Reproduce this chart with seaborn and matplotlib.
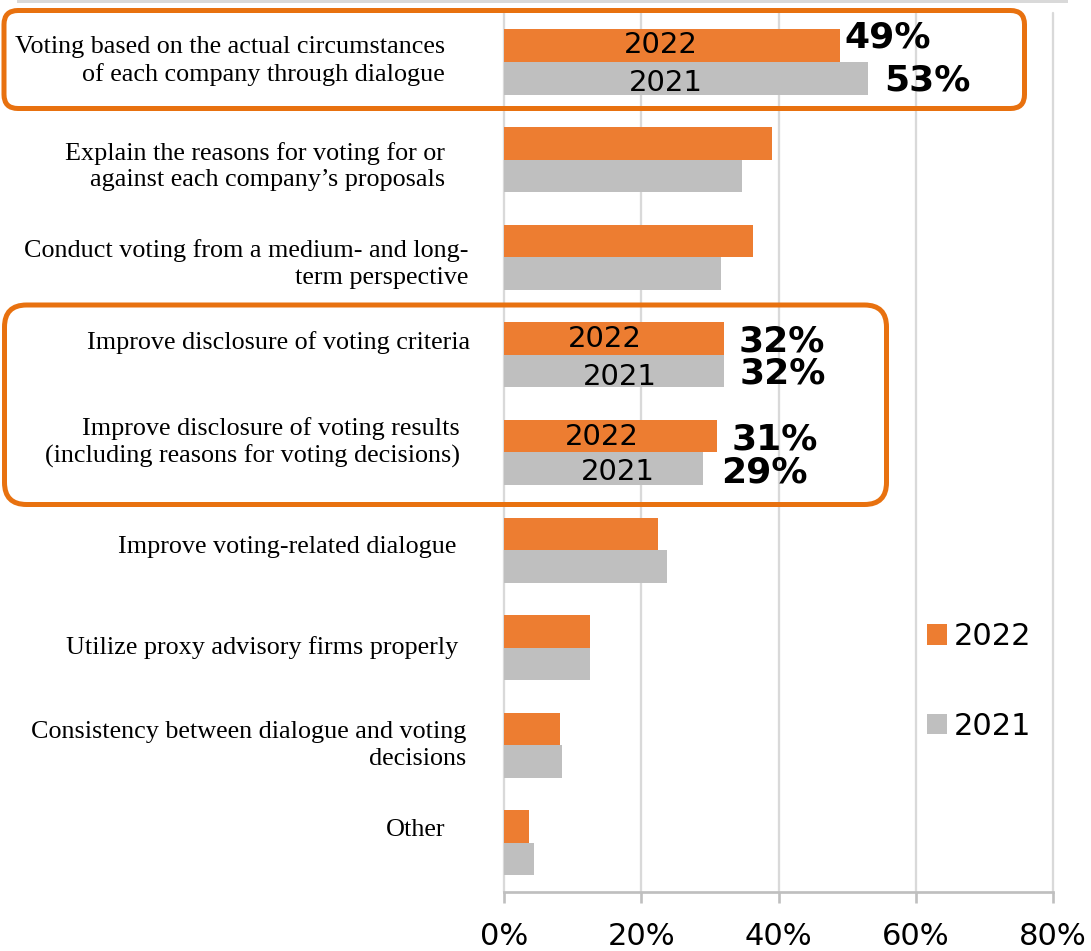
import matplotlib
matplotlib.use("Agg")
import matplotlib.pyplot as plt
from matplotlib.patches import FancyBboxPatch, Rectangle
from matplotlib.transforms import IdentityTransform
import pandas as pd
import seaborn as sns

# ---- data -------------------------------------------------------------
categories = [
    "Voting based on the actual circumstances\nof each company through dialogue",
    "Explain the reasons for voting for or\nagainst each company\u2019s proposals",
    "Conduct voting from a medium- and long-\nterm perspective",
    "Improve disclosure of voting criteria",
    "Improve disclosure of voting results\n(including reasons for voting decisions)",
    "Improve voting-related dialogue",
    "Utilize proxy advisory firms properly",
    "Consistency between dialogue and voting\ndecisions",
    "Other",
]
years = ["2022", "2021"]
share_2022 = [49, 39.1, 36.3, 32, 31, 22.4, 12.6, 8.2, 3.7]
share_2021 = [53, 34.7, 31.6, 32, 29, 23.8, 12.5, 8.4, 4.3]
x_ticks = [0, 20, 40, 60, 80]
x_tick_labels = ["0%", "20%", "40%", "60%", "80%"]
highlighted = [0, 3, 4]          # items whose bars carry year and value labels

# ---- layout (pixels on a 1091 x 951 canvas) ---------------------------
W, H = 1091, 951
AX_L, AX_R, AX_T, AX_B = 504, 1053, 13.2, 891.7
# right edge and vertical nudge (down positive) for each category label
label_right = [445, 445, 468, 470, 460, 456, 458, 466, 445]
label_nudge = [-1, 7, 7, -12, -10, -3, 0, 0, -13]
# value label offsets from the bar end: (dx, dy) per year
value_offsets = {
    0: [(4, -8.5), (16, 2.5)],
    3: [(15, 3), (16, 2)],
    4: [(15, 3), (18, 4)],
}
# centre of the in-bar year label, in axis units (percent)
year_label_x = {
    0: [22.9, 23.6],
    3: [14.7, 16.9],
    4: [14.3, 16.6],
}
year_label_nudge = {0: [-1, 4.5], 3: [0, 6], 4: [1, 3]}

ORANGE = "#ED7D31"
GREY = "#BFBFBF"
FRAME = "#E8710F"
GRID = "#D9D9D9"

sns.set_theme(style="white")
plt.rcParams["font.family"] = ["DejaVu Sans"]
plt.rcParams["text.color"] = "black"

df = pd.DataFrame({
    "category": categories * 2,
    "share": share_2022 + share_2021,
    "year": [years[0]] * len(categories) + [years[1]] * len(categories),
})

fig = plt.figure(figsize=(W / 100, H / 100), dpi=100)
ax = fig.add_axes([AX_L / W, 1 - AX_B / H, (AX_R - AX_L) / W, (AX_B - AX_T) / H])

sns.barplot(
    data=df, y="category", x="share", hue="year", hue_order=years,
    order=categories, palette=[ORANGE, GREY], saturation=1,
    orient="h", width=0.667, linewidth=0, ax=ax,
)

ax.set_xlim(0, 80)
ax.set_ylim(len(categories) - 0.5, -0.5)
ax.set_xlabel("")
ax.set_ylabel("")
ax.set_xticks(x_ticks, x_tick_labels)
ax.set_yticks(range(len(categories)), [""] * len(categories))
ax.tick_params(axis="y", length=0)
ax.tick_params(axis="x", length=8, width=1.9, color=GREY, pad=13.5,
               labelsize=22, labelcolor="black", bottom=True)

ax.set_axisbelow(True)
ax.xaxis.grid(True, color=GRID, linewidth=1.65)
for gl in ax.get_xgridlines():
    gl.set_clip_on(False)
for side in ["left", "right", "top"]:
    ax.spines[side].set_visible(False)
ax.spines["bottom"].set_color(GREY)
ax.spines["bottom"].set_linewidth(1.95)

# category labels
for i, text in enumerate(categories):
    ax.annotate(
        text, xy=(0, i), xycoords=("axes fraction", "data"),
        xytext=(label_right[i] - AX_L, -label_nudge[i]), textcoords="offset pixels",
        ha="right", va="center", multialignment="right",
        fontfamily="Liberation Serif", fontsize=18.8, linespacing=1.27,
        color="black",
    )

# year names inside and percentages beside the highlighted bars
for j, container in enumerate(ax.containers[:2]):
    for i in highlighted:
        bar = container[i]
        yc = bar.get_y() + bar.get_height() / 2
        value = bar.get_width()
        dx, dy = value_offsets[i][j]
        ax.annotate(
            f"{value:.0f}%", xy=(value, yc), xycoords="data",
            xytext=(dx, -dy), textcoords="offset pixels",
            ha="left", va="center", fontsize=26, fontweight="bold", color="black",
        )
        ax.annotate(
            years[j], xy=(year_label_x[i][j], yc), xycoords="data",
            xytext=(0, -year_label_nudge[i][j]), textcoords="offset pixels",
            ha="center", va="center", fontsize=21, color="black",
        )

# legend
handles, labels = ax.get_legend_handles_labels()
ax.legend(
    handles, labels, loc="center left",
    bbox_to_anchor=(927 / W, 1 - 681.5 / H), bbox_transform=fig.transFigure,
    frameon=False, fontsize=22, handlelength=0.66, handleheight=0.66,
    handletextpad=0.2, labelspacing=1.97, borderpad=0, borderaxespad=0,
    labelcolor="black",
)

# rounded highlight frames and the rule along the top edge
def frame(x0, y0, x1, y1, radius):
    fig.add_artist(FancyBboxPatch(
        (x0, H - y1), x1 - x0, y1 - y0,
        boxstyle=f"round,pad=0,rounding_size={radius}",
        transform=IdentityTransform(), facecolor="none",
        edgecolor=FRAME, linewidth=3.6, zorder=5,
    ))

frame(4, 10.5, 1024.5, 108.5, 14)
frame(4.5, 305, 886.5, 504.5, 22)
fig.add_artist(Rectangle((17, H - 3), 1051, 3, transform=IdentityTransform(),
                         facecolor=GRID, edgecolor="none", zorder=5))

fig.savefig("out.png", dpi=100)
